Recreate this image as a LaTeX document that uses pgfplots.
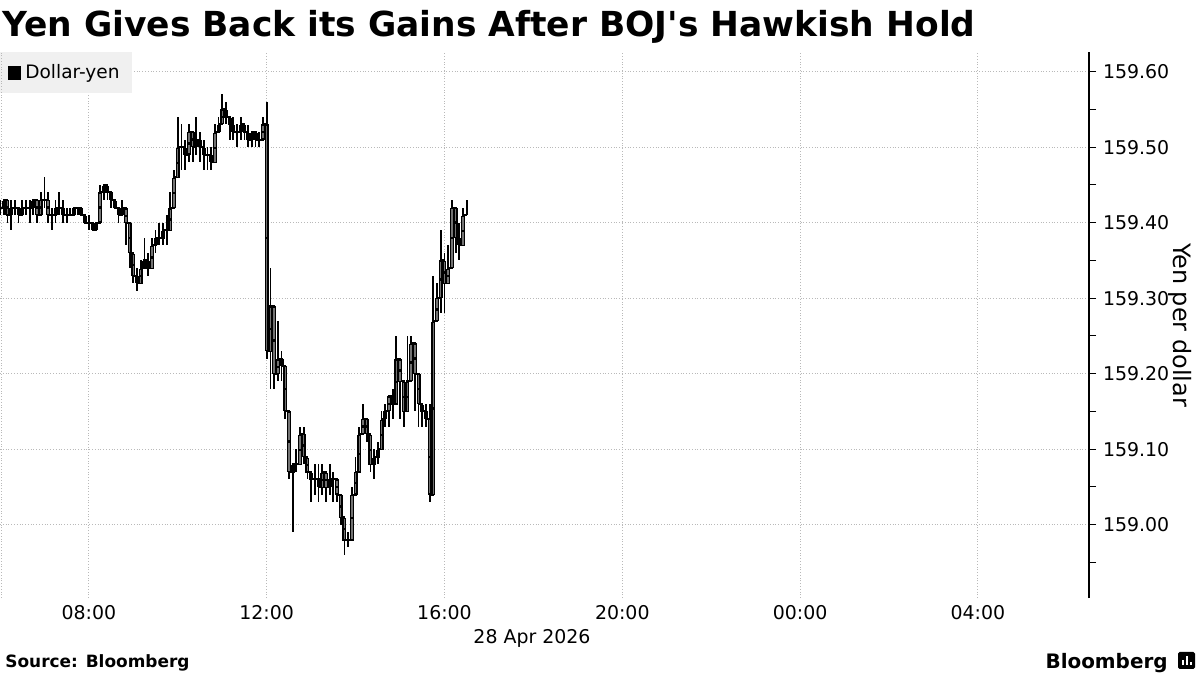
\documentclass[border=0pt]{standalone}
\usepackage{fontspec}
\setmainfont{DejaVu Sans}
\newfontfamily\plainfont{DejaVu Sans}[Ligatures=ResetAll]
\usepackage{pgfplots}
\usepackage{pgfplotstable}
\pgfplotsset{compat=1.18}

% 5-minute bars, 28 Apr 2026, k = bar index from 06:00 (close, high, low)
\pgfplotstableread{
k c h l
0 159.42 159.43 159.41
1 159.43 159.43 159.41
2 159.41 159.43 159.40
3 159.42 159.43 159.39
4 159.42 159.43 159.41
5 159.41 159.42 159.40
6 159.42 159.43 159.41
7 159.42 159.43 159.41
8 159.42 159.43 159.40
9 159.43 159.43 159.41
10 159.41 159.43 159.40
11 159.43 159.44 159.41
12 159.43 159.46 159.42
13 159.41 159.44 159.40
14 159.41 159.42 159.39
15 159.42 159.43 159.40
16 159.42 159.44 159.41
17 159.41 159.43 159.40
18 159.41 159.42 159.40
19 159.41 159.42 159.41
20 159.42 159.42 159.41
21 159.42 159.42 159.41
22 159.41 159.42 159.41
23 159.40 159.41 159.40
24 159.40 159.41 159.39
25 159.39 159.40 159.39
26 159.40 159.40 159.39
27 159.44 159.45 159.40
28 159.45 159.45 159.43
29 159.44 159.45 159.43
30 159.43 159.44 159.42
31 159.42 159.43 159.42
32 159.41 159.42 159.40
33 159.42 159.43 159.41
34 159.40 159.42 159.37
35 159.36 159.37 159.34
36 159.33 159.35 159.32
37 159.32 159.34 159.31
38 159.34 159.35 159.32
39 159.35 159.38 159.34
40 159.34 159.36 159.33
41 159.37 159.38 159.34
42 159.38 159.39 159.36
43 159.38 159.40 159.37
44 159.39 159.40 159.37
45 159.39 159.41 159.37
46 159.42 159.44 159.40
47 159.46 159.47 159.43
48 159.50 159.54 159.48
49 159.50 159.53 159.47
50 159.49 159.51 159.47
51 159.52 159.53 159.48
52 159.50 159.52 159.48
53 159.51 159.54 159.49
54 159.50 159.52 159.48
55 159.49 159.51 159.47
56 159.49 159.50 159.47
57 159.48 159.50 159.47
58 159.52 159.53 159.50
59 159.53 159.54 159.52
60 159.55 159.57 159.53
61 159.54 159.56 159.53
62 159.53 159.54 159.51
63 159.52 159.54 159.51
64 159.52 159.53 159.50
65 159.53 159.54 159.51
66 159.52 159.53 159.51
67 159.51 159.53 159.50
68 159.52 159.52 159.50
69 159.51 159.52 159.50
70 159.51 159.52 159.50
71 159.53 159.54 159.51
72 159.23 159.56 159.22
73 159.29 159.34 159.18
74 159.20 159.28 159.18
75 159.22 159.27 159.19
76 159.21 159.23 159.19
77 159.15 159.21 159.14
78 159.07 159.15 159.06
79 159.08 159.08 158.99
80 159.08 159.10 159.07
81 159.12 159.13 159.08
82 159.09 159.13 159.08
83 159.07 159.09 159.06
84 159.06 159.07 159.03
85 159.06 159.08 159.04
86 159.05 159.08 159.03
87 159.07 159.08 159.04
88 159.05 159.07 159.03
89 159.06 159.08 159.04
90 159.06 159.07 159.03
91 159.04 159.06 159.03
92 159.01 159.04 159.00
93 158.98 159.00 158.96
94 158.98 158.99 158.97
95 159.04 159.05 158.98
96 159.07 159.09 159.05
97 159.12 159.13 159.07
98 159.14 159.16 159.12
99 159.12 159.13 159.11
100 159.08 159.12 159.07
101 159.09 159.10 159.06
102 159.10 159.11 159.08
103 159.14 159.15 159.10
104 159.15 159.16 159.13
105 159.17 159.17 159.13
106 159.16 159.18 159.14
107 159.22 159.25 159.17
108 159.19 159.22 159.14
109 159.15 159.19 159.13
110 159.19 159.25 159.18
111 159.24 159.25 159.20
112 159.20 159.24 159.15
113 159.16 159.19 159.13
114 159.15 159.16 159.13
115 159.14 159.16 159.13
116 159.04 159.16 159.03
117 159.27 159.33 159.20
118 159.30 159.32 159.27
119 159.35 159.39 159.28
120 159.32 159.36 159.28
121 159.34 159.37 159.33
122 159.42 159.43 159.34
123 159.38 159.42 159.36
124 159.37 159.40 159.35
125 159.41 159.42 159.38
126 159.41 159.43 159.41
}\fxdata
% open of each bar = previous close
\pgfplotstablecreatecol[
  create col/assign/.code={%
    \ifnum\pgfplotstablerow=0
      \edef\entry{\thisrow{c}}%
    \else
      \edef\entry{\prevrow{c}}%
    \fi
    \pgfkeyslet{/pgfplots/table/create col/next content}\entry}
]{o}\fxdata

\begin{document}
\begin{tikzpicture}
\path[use as bounding box] (0bp,0bp) rectangle (600bp,337.5bp);
\node[anchor=base west, inner sep=0, font=\bfseries\fontsize{17.3}{20}\selectfont] at (1bp,319bp) {Yen Gives Back its Gains After BOJ{\plainfont\bfseries\char39}s Hawkish Hold};
\begin{axis}[
  at={(0bp,38.5bp)}, anchor=south west,
  scale only axis, width=544.5bp, height=273bp,
  xmin=6, xmax=30.5, ymin=158.903, ymax=159.626,
  axis x line=bottom, axis y line=right,
  x axis line style={draw=none},
  y axis line style={black, line width=0.6bp, -},
  xtick={8,12,16,20,24,28},
  xticklabels={08:00,12:00,16:00,20:00,00:00,04:00},
  x tick style={draw=none},
  xticklabel style={yshift=3.5bp},
  ytick={159.0,159.1,159.2,159.3,159.4,159.5,159.6},
  minor ytick={158.95,159.05,159.15,159.25,159.35,159.45,159.55},
  tick align=outside,
  major tick length=3.5bp, minor tick length=3.5bp,
  y tick style={black, line width=0.5bp},
  yticklabel pos=right,
  ytick pos=right,
  /pgf/number format/.cd, fixed, fixed zerofill, precision=2, assume math mode=true,
  /pgfplots/.cd,
  tick label style={font=\fontsize{9.5}{11}\selectfont, black},
  xmajorgrids, ymajorgrids,
  grid style={densely dotted, gray!55, line width=0.4bp},
  ylabel={Yen per dollar},
  every axis y label/.style={at={(rel axis cs:1,0.5)}, xshift=45.5bp, rotate=-90, anchor=center,
    font=\fontsize{12}{14}\selectfont},
  legend style={at={(0,1)}, anchor=north west, fill=gray!12, draw=none,
    font=\fontsize{9.3}{11}\selectfont, inner xsep=4bp, inner ysep=4bp},
  legend cell align=left,
  clip=false,
]
% close-to-close steps
\addplot[const plot, black, line width=1bp, mark=none,
  legend image code/.code={\fill[black] (0bp,-2.8bp) rectangle (5.5bp,2.8bp);}]
  table[x expr=6+\thisrow{k}/12, y=c] {\fxdata};
\addlegendentry{Dollar-yen}
% high-low wicks
\addplot[draw=none, mark=none, forget plot,
  error bars/.cd, y dir=both, y explicit, error mark=none,
  error bar style={draw=black, line width=0.9bp, solid}]
  table[x expr=6+\thisrow{k}/12, y=c,
        y error plus expr=\thisrow{h}-\thisrow{c},
        y error minus expr=\thisrow{c}-\thisrow{l}] {\fxdata};
% candle bodies: black outline
\addplot[draw=none, mark=none, forget plot,
  error bars/.cd, y dir=both, y explicit, error mark=none,
  error bar style={draw=black, line width=2bp, solid}]
  table[x expr=6+\thisrow{k}/12, y expr=(\thisrow{o}+\thisrow{c})/2,
        y error expr=abs(\thisrow{c}-\thisrow{o})/2] {\fxdata};
% candle bodies: grey fill
\addplot[draw=none, mark=none, forget plot,
  unbounded coords=discard,
  x filter/.expression={abs(\thisrow{c}-\thisrow{o})<0.015 ? nan : x},
  error bars/.cd, y dir=both, y explicit, error mark=none,
  error bar style={draw=black!55, line width=0.7bp, solid, shorten <=0.6bp, shorten >=0.6bp}]
  table[x expr=6+\thisrow{k}/12, y expr=(\thisrow{o}+\thisrow{c})/2,
        y error expr=abs(\thisrow{c}-\thisrow{o})/2] {\fxdata};
\end{axis}
\draw[densely dotted, gray!55, line width=0.4bp] (0.5bp,38.5bp) -- (0.5bp,311.5bp);
\node[anchor=base, inner sep=0, font=\fontsize{9.5}{11}\selectfont] at (266bp,16bp) {28 Apr 2026};
\node[anchor=base west, inner sep=0, font=\bfseries\fontsize{8.5}{10}\selectfont] at (2.5bp,4bp) {Source: Bloomberg};
\node[anchor=base east, inner sep=0, font=\bfseries\fontsize{10}{12}\selectfont] at (584bp,3.5bp) {Bloomberg};
\fill[black, rounded corners=0.8bp] (589bp,3bp) rectangle (597.5bp,11.5bp);
\fill[white] (591bp,5bp) rectangle (592bp,7.5bp);
\fill[white] (593bp,5bp) rectangle (594bp,9.5bp);
\fill[white] (595bp,5bp) rectangle (596bp,6.5bp);
\end{tikzpicture}
\end{document}
